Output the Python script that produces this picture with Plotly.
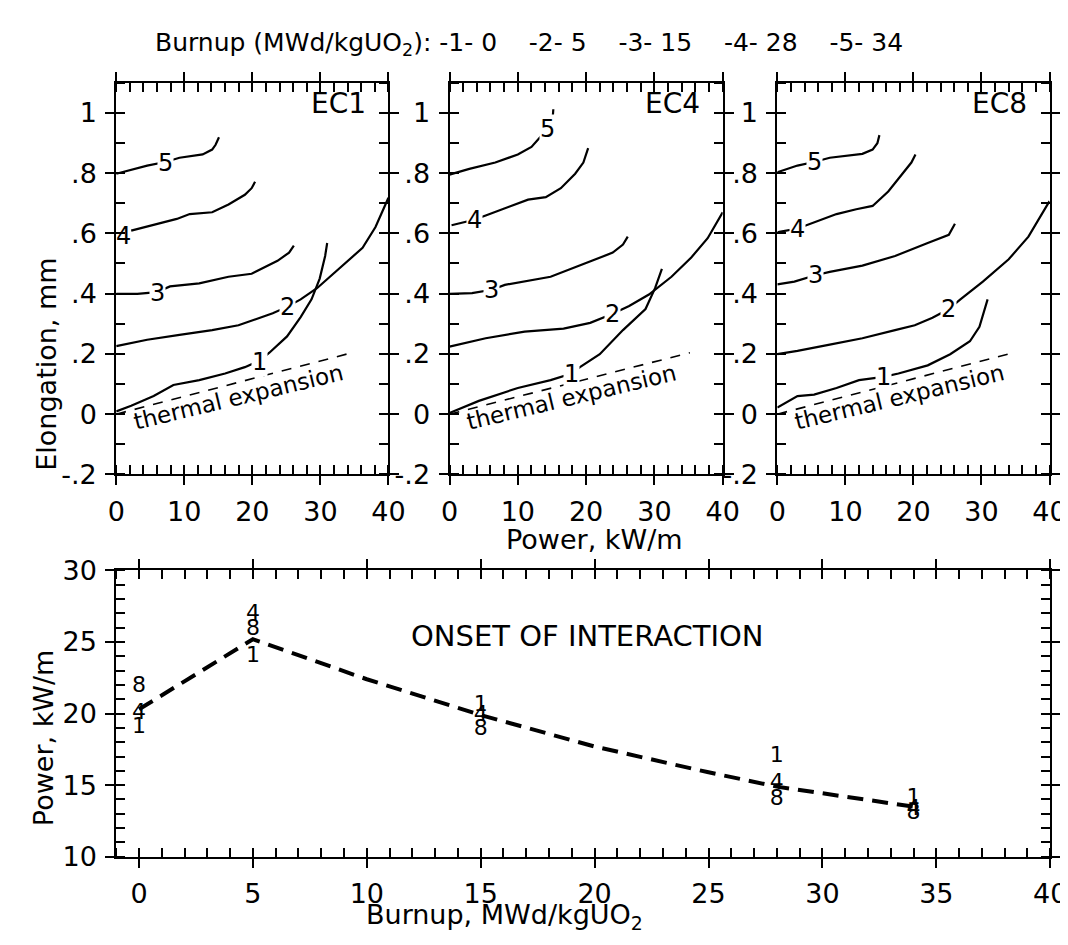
import plotly.graph_objects as go

FONT = "DejaVu Sans"

# ---------------- data: top panels (Power kW/m vs Elongation mm) ----------------
power_tickvals = [0, 10, 20, 30, 40]
elong_tickvals = [-0.2, 0, 0.2, 0.4, 0.6, 0.8, 1.0]
elong_ticktext = ["-.2", "0", ".2", ".4", ".6", ".8", "1"]
panel_names = ["EC1", "EC4", "EC8"]
curve_ids = ["1", "2", "3", "4", "5"]

# EC1
ec1_x1 = [0, 2.2, 5.5, 8.4, 12.2, 16.0, 18.9, 21.1, 22.5, 25.1, 27.1, 28.7, 29.9, 30.7, 31.0]
ec1_y1 = [0.009, 0.028, 0.06, 0.097, 0.113, 0.135, 0.156, 0.178, 0.204, 0.258, 0.322, 0.381, 0.450, 0.525, 0.568]
ec1_x2 = [0, 4.55, 9.3, 14.1, 17.96, 20.8, 23.0, 25.1, 27.1, 29.5, 33.3, 36.2, 38.1, 40]
ec1_y2 = [0.226, 0.247, 0.263, 0.279, 0.295, 0.317, 0.335, 0.356, 0.381, 0.418, 0.493, 0.552, 0.621, 0.718]
ec1_x3 = [0, 3.1, 6.0, 7.9, 12.2, 16.5, 19.9, 21.8, 23.7, 25.4, 26.1]
ec1_y3 = [0.399, 0.399, 0.405, 0.424, 0.434, 0.456, 0.466, 0.488, 0.509, 0.536, 0.559]
ec1_x4 = [2.2, 5.5, 8.9, 10.8, 14.1, 16.5, 18.9, 19.9, 20.4]
ec1_y4 = [0.609, 0.627, 0.648, 0.664, 0.670, 0.696, 0.728, 0.750, 0.771]
ec1_x5 = [0, 2.3, 4.55, 7.2, 9.3, 12.7, 14.1, 14.6, 15.1]
ec1_y5 = [0.798, 0.812, 0.825, 0.837, 0.851, 0.862, 0.878, 0.894, 0.919]
ec1_lab_x = [21.1, 25.1, 6.0, 1.0, 7.2]
ec1_lab_y = [0.172, 0.354, 0.402, 0.59, 0.835]
ec1_thermal_x = [0, 35]
ec1_thermal_y = [0.0, 0.206]

# EC4
ec4_x1 = [0, 4.3, 10.0, 14.8, 17.9, 19.1, 22.0, 25.4, 28.7, 30.1, 31.1]
ec4_y1 = [0.004, 0.044, 0.087, 0.113, 0.135, 0.156, 0.199, 0.279, 0.349, 0.418, 0.482]
ec4_x2 = [0, 5.3, 11.0, 16.7, 20.6, 23.9, 26.3, 29.2, 32.5, 35.4, 37.8, 40]
ec4_y2 = [0.224, 0.252, 0.274, 0.284, 0.303, 0.333, 0.359, 0.397, 0.456, 0.520, 0.584, 0.670]
ec4_x3 = [0, 3.3, 6.2, 8.1, 14.8, 19.6, 23.9, 25.4, 26.1]
ec4_y3 = [0.399, 0.402, 0.413, 0.429, 0.456, 0.498, 0.536, 0.563, 0.589]
ec4_x4 = [0.3, 1.2, 3.6, 5.3, 7.7, 11.5, 14.1, 16.3, 18.4, 19.6, 20.3]
ec4_y4 = [0.627, 0.632, 0.645, 0.659, 0.680, 0.712, 0.720, 0.750, 0.798, 0.835, 0.883]
ec4_x5 = [0, 2.9, 6.7, 10.0, 12.0, 13.2, 14.4, 15.1, 15.2]
ec4_y5 = [0.795, 0.814, 0.835, 0.862, 0.887, 0.916, 0.948, 0.980, 1.012]
ec4_lab_x = [17.9, 23.9, 6.2, 3.6, 14.4]
ec4_lab_y = [0.133, 0.333, 0.411, 0.643, 0.948]
ec4_thermal_x = [0, 35.2]
ec4_thermal_y = [0.0, 0.204]

# EC8
ec8_x1 = [0, 2.96, 5.4, 8.7, 12.0, 15.6, 17.8, 22.1, 25.4, 28.3, 29.7, 30.4, 30.9]
ec8_y1 = [0.022, 0.060, 0.065, 0.087, 0.113, 0.124, 0.135, 0.162, 0.199, 0.242, 0.290, 0.343, 0.381]
ec8_x2 = [0, 2.96, 7.7, 12.5, 17.3, 20.2, 22.8, 25.2, 26.9, 30.2, 34.0, 36.9, 40]
ec8_y2 = [0.199, 0.210, 0.231, 0.252, 0.279, 0.295, 0.320, 0.349, 0.381, 0.440, 0.514, 0.589, 0.707]
ec8_x3 = [0, 2.5, 5.6, 7.7, 12.5, 17.3, 22.1, 25.2, 26.1]
ec8_y3 = [0.431, 0.440, 0.461, 0.472, 0.493, 0.525, 0.568, 0.595, 0.632]
ec8_x4 = [0, 0.3, 3.0, 4.9, 8.7, 11.6, 14.0, 16.3, 18.2, 19.7, 20.3]
ec8_y4 = [0.603, 0.605, 0.616, 0.632, 0.664, 0.680, 0.691, 0.739, 0.793, 0.835, 0.862]
ec8_x5 = [0, 2.96, 5.4, 7.7, 12.5, 14.0, 14.7, 15.0]
ec8_y5 = [0.803, 0.825, 0.837, 0.851, 0.864, 0.878, 0.899, 0.926]
ec8_lab_x = [15.6, 25.2, 5.6, 3.0, 5.4]
ec8_lab_y = [0.124, 0.349, 0.461, 0.616, 0.837]
ec8_thermal_x = [0, 34.7]
ec8_thermal_y = [0.0, 0.204]

# ---------------- data: bottom panel (onset of interaction) ----------------
onset_burnup = [0, 5, 15, 28, 34]
onset_ec1 = [19.0, 24.0, 20.6, 17.0, 14.1]
onset_ec4 = [20.0, 26.9, 19.9, 15.1, 13.3]
onset_ec8 = [21.9, 25.9, 18.9, 14.0, 13.0]
trend_burnup = [0, 5, 10, 15, 20, 25, 28, 31, 34]
trend_power = [20.3, 25.2, 22.4, 19.9, 17.7, 15.9, 14.9, 14.2, 13.5]

# ---------------- figure ----------------
panels = [
    dict(xa="x", ya="y", curves=[(ec1_x1, ec1_y1), (ec1_x2, ec1_y2), (ec1_x3, ec1_y3), (ec1_x4, ec1_y4), (ec1_x5, ec1_y5)],
         lx=ec1_lab_x, ly=ec1_lab_y, tx=ec1_thermal_x, ty=ec1_thermal_y),
    dict(xa="x2", ya="y2", curves=[(ec4_x1, ec4_y1), (ec4_x2, ec4_y2), (ec4_x3, ec4_y3), (ec4_x4, ec4_y4), (ec4_x5, ec4_y5)],
         lx=ec4_lab_x, ly=ec4_lab_y, tx=ec4_thermal_x, ty=ec4_thermal_y),
    dict(xa="x3", ya="y3", curves=[(ec8_x1, ec8_y1), (ec8_x2, ec8_y2), (ec8_x3, ec8_y3), (ec8_x4, ec8_y4), (ec8_x5, ec8_y5)],
         lx=ec8_lab_x, ly=ec8_lab_y, tx=ec8_thermal_x, ty=ec8_thermal_y),
]

W, H = 1068, 945
top_xdom = [(101.7 / W, 380.7 / W), (443.3 / W, 723.3 / W), (779.3 / W, 1058.3 / W)]
top_ydom = (1 - 465.7 / H, 1 - 60.7 / H)
bot_xdom = (101.7 / W, 1059.0 / W)
bot_ydom = (1 - 861.0 / H, 1 - 565.0 / H)

fig = go.Figure()
annotations = []


def ann(**kw):
    d = dict(showarrow=False, xanchor="center", yanchor="middle")
    d.update(kw)
    return d


for i, p in enumerate(panels):
    for c, (cx, cy) in enumerate(p["curves"]):
        fig.add_trace(go.Scatter(x=cx, y=cy, mode="lines", xaxis=p["xa"], yaxis=p["ya"],
                                 line=dict(color="black", width=2.2), showlegend=False, hoverinfo="skip"))
    fig.add_trace(go.Scatter(x=p["tx"], y=p["ty"], mode="lines", xaxis=p["xa"], yaxis=p["ya"],
                             line=dict(color="black", width=1.6, dash="10px,9px"), showlegend=False, hoverinfo="skip"))
    for k, lab in enumerate(curve_ids):
        near_axis = p["lx"][k] < 1.5
        annotations.append(ann(x=p["lx"][k], y=p["ly"][k], xref=p["xa"], yref=p["ya"], text=lab,
                               font=dict(family=FONT, size=24, color="black"),
                               bgcolor=None if near_axis else "white", borderpad=0))
    annotations.append(ann(x=0.925, y=0.948, xref=p["xa"] + " domain", yref=p["ya"] + " domain",
                           text=panel_names[i], xanchor="right",
                           font=dict(family=FONT, size=28, color="black")))
    annotations.append(ann(x=17.9, y=0.058, xref=p["xa"], yref=p["ya"], text="thermal expansion",
                           textangle=-13.5, font=dict(family=FONT, size=23, color="black")))

# bottom panel
fig.add_trace(go.Scatter(x=trend_burnup, y=trend_power, mode="lines", xaxis="x4", yaxis="y4",
                         line=dict(color="black", width=4, dash="16px,9px"), showlegend=False, hoverinfo="skip"))
for vals, lab in [(onset_ec1, "1"), (onset_ec4, "4"), (onset_ec8, "8")]:
    fig.add_trace(go.Scatter(x=onset_burnup, y=vals, mode="text", text=[lab] * len(vals), xaxis="x4", yaxis="y4",
                             textfont=dict(family=FONT, size=22, color="black"), showlegend=False, hoverinfo="skip"))
annotations.append(ann(x=19.7, y=25.4, xref="x4", yref="y4", text="ONSET OF INTERACTION",
                       font=dict(family=FONT, size=29, color="black")))

# invisible traces to host overlay axes (for crossing major ticks)
for n in range(4):
    base = "" if n == 0 else str(n + 1)
    fig.add_trace(go.Scatter(x=[None], y=[None], xaxis="x" + str(n + 5), yaxis="y" + base, showlegend=False, hoverinfo="skip"))
    fig.add_trace(go.Scatter(x=[None], y=[None], xaxis="x" + base, yaxis="y" + str(n + 5), showlegend=False, hoverinfo="skip"))

tickfont = dict(family=FONT, size=27, color="black")


def main_axis(rng, domain, anchor, tickvals, ticktext, minor_dtick, minor_tick0):
    return dict(range=rng, domain=domain, anchor=anchor, showgrid=False, zeroline=False,
                showline=True, linecolor="black", linewidth=2, mirror="allticks",
                tickmode="array", tickvals=tickvals, ticktext=ticktext,
                ticks="outside", ticklen=9, tickwidth=2, tickcolor="black",
                tickfont=tickfont, ticklabelstandoff=3,
                minor=dict(tickmode="linear", dtick=minor_dtick, tick0=minor_tick0, ticks="inside",
                           ticklen=7, tickwidth=2, tickcolor="black"))


def overlay_axis(over, anchor, rng, tickvals):
    return dict(overlaying=over, anchor=anchor, range=rng, showgrid=False, zeroline=False,
                showline=True, linecolor="black", linewidth=2, mirror="allticks",
                tickmode="array", tickvals=tickvals, ticks="inside", ticklen=9, tickwidth=2,
                tickcolor="black", showticklabels=False)


layout_axes = {}
for i in range(3):
    s = "" if i == 0 else str(i + 1)
    layout_axes["xaxis" + s] = main_axis([0, 40], top_xdom[i], "y" + s, power_tickvals,
                                         [str(v) for v in power_tickvals], 2, 0)
    layout_axes["yaxis" + s] = main_axis([-0.2, 1.1], top_ydom, "x" + s, elong_tickvals, elong_ticktext, 0.1, 0)
    layout_axes["xaxis" + str(i + 5)] = overlay_axis("x" + s, "y" + s, [0, 40], power_tickvals)
    layout_axes["yaxis" + str(i + 5)] = overlay_axis("y" + s, "x" + s, [-0.2, 1.1], elong_tickvals)

burn_tickvals = [0, 5, 10, 15, 20, 25, 30, 35, 40]
pow_tickvals = [10, 15, 20, 25, 30]
layout_axes["xaxis4"] = main_axis([-1, 40], bot_xdom, "y4", burn_tickvals, [str(v) for v in burn_tickvals], 1, 0)
layout_axes["yaxis4"] = main_axis([10, 30], bot_ydom, "x4", pow_tickvals, [str(v) for v in pow_tickvals], 1, 10)
layout_axes["xaxis8"] = overlay_axis("x4", "y4", [-1, 40], burn_tickvals)
layout_axes["yaxis8"] = overlay_axis("y4", "x4", [10, 30], pow_tickvals)

# titles and header
title_font = dict(family=FONT, size=27, color="black")
annotations += [
    ann(x=525 / W, y=1 - 21 / H, xref="paper", yref="paper",
        text="Burnup (MWd/kgUO<sub>2</sub>): -1- 0\u00a0\u00a0\u00a0\u00a0-2- 5\u00a0\u00a0\u00a0\u00a0-3- 15\u00a0\u00a0\u00a0\u00a0-4- 28\u00a0\u00a0\u00a0\u00a0-5- 34",
        font=dict(family=FONT, size=25, color="black")),
    ann(x=592 / W, y=1 - 533 / H, xref="paper", yref="paper", text="Power, kW/m", font=title_font),
    ann(x=30 / W, y=1 - 352 / H, xref="paper", yref="paper", text="Elongation, mm",
        textangle=-90, font=title_font),
    ann(x=27 / W, y=1 - 738 / H, xref="paper", yref="paper", text="Power, kW/m",
        textangle=-90, font=title_font),
    ann(x=500 / W, y=1 - 923 / H, xref="paper", yref="paper",
        text="Burnup, MWd/kgUO<sub>2</sub>", font=title_font),
]

fig.update_layout(width=W, height=H, autosize=False, margin=dict(l=0, r=0, t=0, b=0),
                  paper_bgcolor="white", plot_bgcolor="white", showlegend=False,
                  annotations=annotations, **layout_axes)

fig.write_html("out.html")
